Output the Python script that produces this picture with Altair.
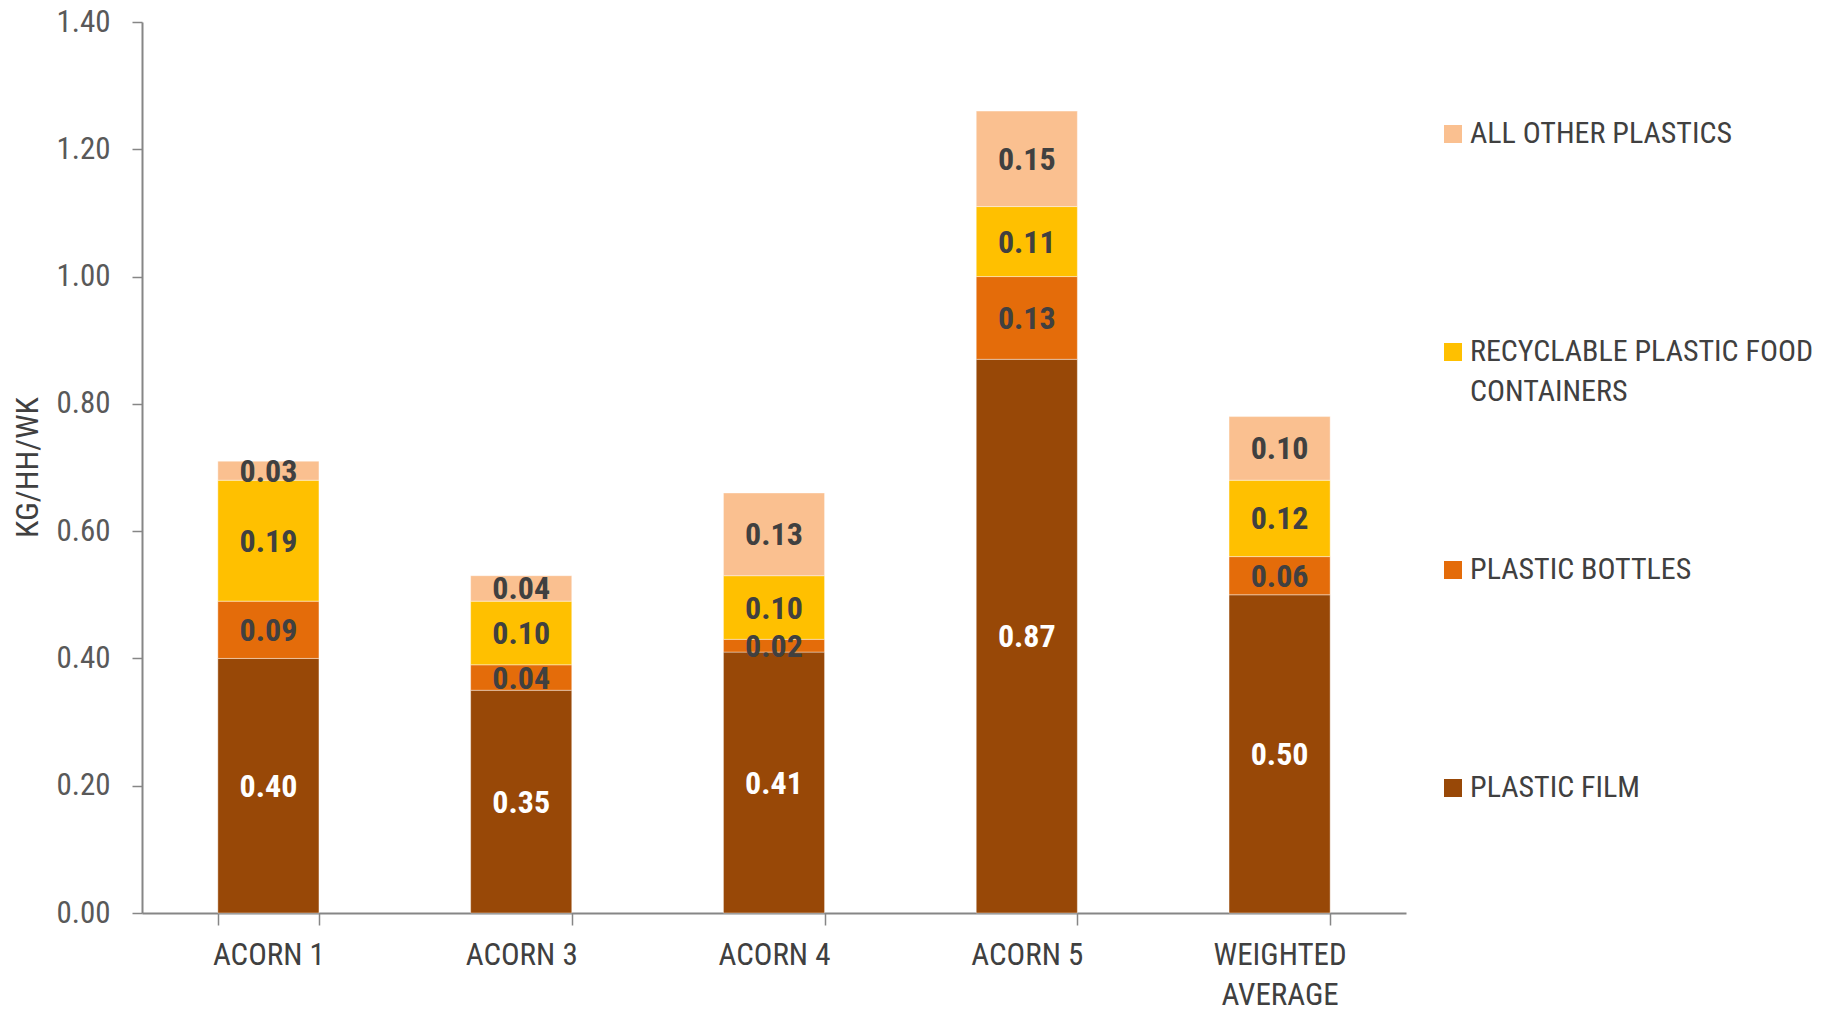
import altair as alt
import pandas as pd

# Household plastic waste by ACORN group (kg per household per week)
categories = ["ACORN 1", "ACORN 3", "ACORN 4", "ACORN 5", "WEIGHTED AVERAGE"]
materials = [
    "PLASTIC FILM",
    "PLASTIC BOTTLES",
    "RECYCLABLE PLASTIC FOOD CONTAINERS",
    "ALL OTHER PLASTICS",
]
plastic_film = [0.40, 0.35, 0.41, 0.87, 0.50]
plastic_bottles = [0.09, 0.04, 0.02, 0.13, 0.06]
food_containers = [0.19, 0.10, 0.10, 0.11, 0.12]
other_plastics = [0.03, 0.04, 0.13, 0.15, 0.10]
material_colors = ["#984807", "#E46C0A", "#FFC000", "#FAC090"]
y_ticks = [0.0, 0.2, 0.4, 0.6, 0.8, 1.0, 1.2, 1.4]

series = [plastic_film, plastic_bottles, food_containers, other_plastics]
rows = []
for idx, (material, values) in enumerate(zip(materials, series)):
    for cat, val in zip(categories, values):
        rows.append({"category": cat, "material": material, "value": val, "idx": idx})
df = pd.DataFrame(rows)

NARROW = "Liberation Sans Narrow, Arial Narrow, Roboto Condensed, DejaVu Sans Condensed, sans-serif"
AXIS_GREY = "#868686"
TEXT_DARK = "#404040"

# legend lists the top segment first
legend_domain = materials[::-1]
legend_range = material_colors[::-1]

x_enc = alt.X(
    "category:N",
    sort=categories,
    scale=alt.Scale(paddingInner=0.6, paddingOuter=0.3),
    axis=alt.Axis(
        title=None,
        labelAngle=0,
        tickBand="extent",
        domainColor=AXIS_GREY,
        domainWidth=2,
        tickColor=AXIS_GREY,
        tickWidth=1.5,
        tickSize=12,
        labelPadding=15,
        labelFont=NARROW,
        labelFontSize=31,
        labelColor=TEXT_DARK,
        labelLineHeight=40,
        labelExpr="indexof(datum.label, 'ACORN') == 0 ? datum.label : split(datum.label, ' ')",
    ),
)

base = alt.Chart(df)

bars = base.mark_bar(stroke="#ffffff", strokeWidth=1, strokeOpacity=0.4).encode(
    x=x_enc,
    y=alt.Y(
        "value:Q",
        stack="zero",
        scale=alt.Scale(domain=[0, 1.4], nice=False),
        axis=alt.Axis(
            values=y_ticks,
            format=".2f",
            grid=False,
            domainColor=AXIS_GREY,
            domainWidth=2,
            tickColor=AXIS_GREY,
            tickWidth=1.5,
            tickSize=10,
            labelPadding=22,
            labelFont=NARROW,
            labelFontSize=31,
            labelColor="#595959",
            title="KG/HH/WK",
            titleFont=NARROW,
            titleFontSize=32,
            titleFontWeight="normal",
            titleColor=TEXT_DARK,
            titleAngle=270,
            titleAlign="center",
            titleBaseline="middle",
            titleX=-115,
            titleY=445,
        ),
    ),
    color=alt.Color(
        "material:N",
        scale=alt.Scale(domain=legend_domain, range=legend_range),
        legend=alt.Legend(
            title=None,
            orient="none",
            legendX=1296,
            legendY=97,
            padding=0,
            symbolType="square",
            symbolSize=324,
            symbolStrokeWidth=0,
            labelFont=NARROW,
            labelFontSize=30,
            labelColor=TEXT_DARK,
            labelLimit=500,
            labelOffset=2,
            rowPadding=148,
            labelExpr="datum.label == 'RECYCLABLE PLASTIC FOOD CONTAINERS' ? ['RECYCLABLE PLASTIC FOOD', 'CONTAINERS'] : [datum.label, '']",
        ),
    ),
    order=alt.Order("idx:Q", sort="ascending"),
)

labels = (
    base.transform_stack(
        stack="value",
        groupby=["category"],
        as_=["v0", "v1"],
        sort=[alt.SortField("idx", order="ascending")],
    )
    .transform_calculate(mid="(datum.v0 + datum.v1) / 2")
    .mark_text(font=NARROW, fontSize=32, fontWeight="bold", baseline="middle", dy=1)
    .encode(
        x=alt.X("category:N", sort=categories),
        y=alt.Y("mid:Q"),
        text=alt.Text("value:Q", format=".2f"),
        color=alt.condition(
            alt.datum.material == "PLASTIC FILM", alt.value("#ffffff"), alt.value(TEXT_DARK)
        ),
    )
)

chart = (
    alt.layer(bars, labels)
    .properties(
        width=1264,
        height=891,
        autosize=alt.AutoSizeParams(type="none"),
        padding={"left": 142, "top": 22, "right": 437, "bottom": 97},
    )
    .configure(
        background="#ffffff",
        view=alt.ViewConfig(stroke=None),
        style={"guide-label": {"lineHeight": 40}},
    )
)

chart.save("out.html", embed_options={"renderer": "svg", "actions": False})
